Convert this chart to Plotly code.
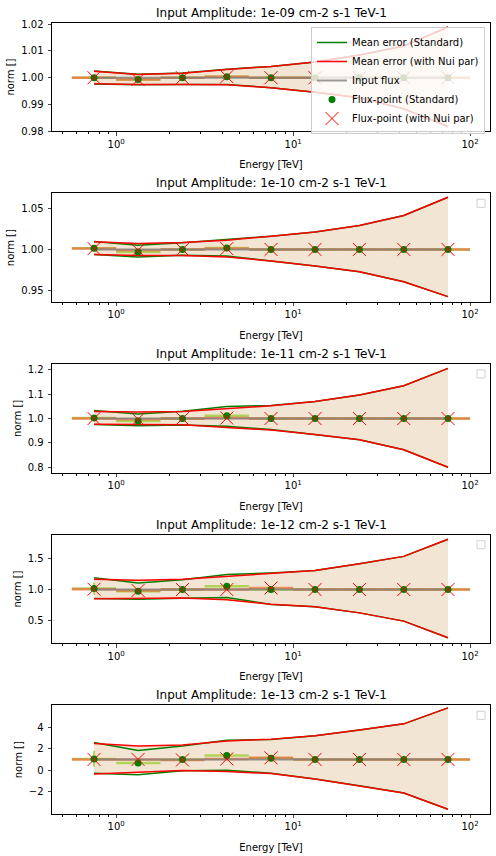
import plotly.graph_objs as go
from plotly.subplots import make_subplots

# energy binning (TeV)
e_edges = [0.562, 1.0, 1.78, 3.16, 5.62, 10.0, 17.8, 31.6, 56.2, 100.0]
e_center = [0.75, 1.33, 2.37, 4.22, 7.5, 13.3, 23.7, 42.2, 75.0]
input_flux = [1.0, 1.0, 1.0, 1.0, 1.0, 1.0, 1.0, 1.0, 1.0]

amplitudes = ['1e-09', '1e-10', '1e-11', '1e-12', '1e-13']

# flux points, one list per amplitude
std_points = [
    [1.0, 0.9993, 1.0, 1.0004, 1.0, 1.0, 1.0, 1.0, 1.0],
    [1.0015, 0.997, 1.0, 1.0018, 1.0, 1.0, 1.0, 1.0, 1.0],
    [1.002, 0.99, 1.0, 1.011, 1.0, 1.0, 1.0, 1.0, 1.0],
    [1.016, 0.973, 1.0, 1.054, 1.0, 1.0, 1.0, 1.0, 1.0],
    [1.05, 0.67, 1.0, 1.37, 1.1, 1.0, 1.0, 1.0, 1.0],
]
std_yerr = [
    [0, 0, 0, 0, 0, 0, 0, 0, 0],
    [0, 0, 0, 0, 0, 0, 0, 0, 0],
    [0, 0, 0, 0, 0, 0, 0, 0, 0],
    [0.1, 0, 0, 0, 0, 0, 0, 0, 0],
    [0.75, 0, 0, 0, 0, 0, 0, 0, 0],
]
nui_points = [
    [1.0, 0.9993, 1.0, 1.0004, 1.0, 1.0, 1.0, 1.0, 1.0],
    [1.001, 0.999, 1.0, 1.001, 1.0, 1.0, 1.0, 1.0, 1.0],
    [1.0, 0.997, 1.0, 1.002, 1.0, 1.0, 1.0, 1.0, 1.0],
    [1.005, 0.985, 1.0, 1.0, 1.025, 1.0, 1.0, 1.0, 1.0],
    [1.0, 1.0, 0.95, 1.05, 1.15, 1.0, 1.0, 1.0, 1.0],
]

# mean error envelopes
std_upper = [
    [1.0025, 1.0013, 1.0018, 1.0032, 1.0042, 1.0059, 1.0085, 1.0118, 1.0189],
    [1.0095, 1.005, 1.008, 1.012, 1.016, 1.021, 1.029, 1.041, 1.063],
    [1.033, 1.019, 1.03, 1.049, 1.054, 1.070, 1.097, 1.135, 1.206],
    [1.19, 1.108, 1.16, 1.243, 1.27, 1.31, 1.42, 1.54, 1.82],
    [2.57, 1.84, 2.25, 2.79, 2.86, 3.2, 3.75, 4.32, 5.81],
]
std_lower = [
    [0.9977, 0.9974, 0.9975, 0.9975, 0.9963, 0.9946, 0.9925, 0.9884, 0.9818],
    [0.994, 0.991, 0.993, 0.992, 0.986, 0.980, 0.973, 0.961, 0.943],
    [0.975, 0.970, 0.973, 0.968, 0.955, 0.934, 0.913, 0.872, 0.80],
    [0.854, 0.843, 0.86, 0.87, 0.757, 0.72, 0.62, 0.486, 0.216],
    [-0.29, -0.44, -0.06, 0.0, -0.29, -0.83, -1.46, -2.13, -3.65],
]
nui_upper = [
    [1.0024, 1.0012, 1.0017, 1.0031, 1.0042, 1.0059, 1.0085, 1.0118, 1.0189],
    [1.0092, 1.0072, 1.0084, 1.0112, 1.016, 1.021, 1.029, 1.041, 1.063],
    [1.029, 1.027, 1.029, 1.042, 1.052, 1.070, 1.097, 1.135, 1.206],
    [1.168, 1.151, 1.168, 1.216, 1.27, 1.31, 1.42, 1.54, 1.82],
    [2.48, 2.25, 2.35, 2.73, 2.89, 3.2, 3.75, 4.32, 5.81],
]
nui_lower = [
    [0.9978, 0.9975, 0.9975, 0.9974, 0.9963, 0.9946, 0.9925, 0.9884, 0.9818],
    [0.994, 0.9928, 0.9928, 0.991, 0.986, 0.980, 0.973, 0.961, 0.943],
    [0.977, 0.977, 0.974, 0.963, 0.953, 0.934, 0.913, 0.872, 0.80],
    [0.852, 0.855, 0.862, 0.835, 0.76, 0.72, 0.62, 0.486, 0.216],
    [-0.35, -0.19, -0.03, -0.13, -0.32, -0.83, -1.46, -2.13, -3.65],
]

y_ranges = [[0.98, 1.0205], [0.9365, 1.0678], [0.7775, 1.224], [0.123, 1.893], [-4.09, 6.05]]
y_ticks = [[0.98, 0.99, 1.0, 1.01, 1.02], [0.95, 1.0, 1.05], [0.8, 0.9, 1.0, 1.1, 1.2],
           [0.5, 1.0, 1.5], [-2, 0, 2, 4]]
y_formats = ['.2f', '.2f', '.1f', '.1f', 'd']

W, H = 496, 856
top_px = [22.7, 193.3, 364.0, 534.7, 705.3]
panel_h = 108.7

FILL = 'rgb(243,229,211)'
STD_BAR = 'rgba(154,205,50,0.75)'
NUI_BAR = 'rgba(236,110,60,0.75)'

x_plus = [e_edges[k + 1] - e_center[k] for k in range(len(e_center))]
x_minus = [e_center[k] - e_edges[k] for k in range(len(e_center))]
minor_vals = [m * d for d in (0.1, 1, 10) for m in range(2, 10)]

fig = make_subplots(rows=5, cols=1)

for i in range(5):
    r = i + 1
    leg = (i == 0)

    # uncertainty band
    fig.add_trace(go.Scatter(x=e_center + e_center[::-1], y=nui_upper[i] + nui_lower[i][::-1],
                             mode='lines', line=dict(width=0), fill='toself', fillcolor=FILL,
                             showlegend=False, hoverinfo='skip'), r, 1)

    # energy bin bars
    fig.add_trace(go.Scatter(x=e_center, y=std_points[i], mode='markers',
                             marker=dict(size=6, opacity=0),
                             error_x=dict(type='data', symmetric=False, array=x_plus, arrayminus=x_minus,
                                          color=STD_BAR, thickness=2.5, width=0),
                             error_y=dict(type='data', array=std_yerr[i], color=STD_BAR, thickness=2, width=0),
                             showlegend=False, hoverinfo='skip'), r, 1)
    fig.add_trace(go.Scatter(x=e_center, y=nui_points[i], mode='markers',
                             marker=dict(size=6, opacity=0),
                             error_x=dict(type='data', symmetric=False, array=x_plus, arrayminus=x_minus,
                                          color=NUI_BAR, thickness=2.5, width=0),
                             showlegend=False, hoverinfo='skip'), r, 1)

    # mean error envelopes
    fig.add_trace(go.Scatter(x=e_center + [None] + e_center, y=std_upper[i] + [None] + std_lower[i],
                             mode='lines', line=dict(color='green', width=1.5),
                             name='Mean error (Standard)', showlegend=leg, legendrank=1), r, 1)
    fig.add_trace(go.Scatter(x=e_center + [None] + e_center, y=nui_upper[i] + [None] + nui_lower[i],
                             mode='lines', line=dict(color='red', width=1.5),
                             name='Mean error (with Nui par)', showlegend=leg, legendrank=2), r, 1)

    fig.add_trace(go.Scatter(x=e_center, y=input_flux, mode='lines',
                             line=dict(color='rgba(128,128,128,0.8)', width=2),
                             name='Input flux', showlegend=leg, legendrank=3), r, 1)

    fig.add_trace(go.Scatter(x=e_center, y=std_points[i], mode='markers',
                             marker=dict(symbol='circle', size=7, color='green'),
                             name='Flux-point (Standard)', showlegend=leg, legendrank=4), r, 1)
    fig.add_trace(go.Scatter(x=e_center, y=nui_points[i], mode='markers',
                             marker=dict(symbol='x-thin', size=13, line=dict(color='red', width=1)),
                             name='Flux-point (with Nui par)', showlegend=leg, legendrank=5), r, 1)

    y0 = 1 - (top_px[i] + panel_h) / H
    y1 = 1 - top_px[i] / H
    fig.update_yaxes(row=r, col=1, domain=[y0, y1], range=y_ranges[i], tickvals=y_ticks[i],
                     tickformat=y_formats[i], ticks='outside', ticklen=3.5, tickwidth=0.8,
                     ticklabelstandoff=2,
                     showline=True, linecolor='black', linewidth=0.8, mirror=True,
                     showgrid=False, zeroline=False, automargin=False,
                     title=dict(text='norm []', font=dict(size=10), standoff=4))
    fig.update_xaxes(row=r, col=1, type='log', range=[-0.3625, 2.1125],
                     tickvals=[1, 10, 100], ticktext=['10<sup>0</sup>', '10<sup>1</sup>', '10<sup>2</sup>'],
                     ticks='outside', ticklen=3.5, tickwidth=0.8,
                     minor=dict(tickvals=minor_vals, ticks='outside', ticklen=2, tickwidth=0.6,
                                tickcolor='black', showgrid=False),
                     showline=True, linecolor='black', linewidth=0.8, mirror=True,
                     showgrid=False, zeroline=False, automargin=False,
                     title=dict(text='Energy [TeV]', font=dict(size=10), standoff=12))

    xd = 'x domain' if r == 1 else f'x{r} domain'
    yd = 'y domain' if r == 1 else f'y{r} domain'
    fig.add_annotation(xref=xd, yref=yd, x=0.5, y=1, yanchor='bottom', yshift=1,
                       text=f'Input Amplitude: {amplitudes[i]} cm-2 s-1 TeV-1',
                       showarrow=False, font=dict(size=12))
    if i > 0:
        # empty legend frame
        fig.add_shape(type='rect', xref=xd, yref=yd,
                      x0=1 - 13 / 438, x1=1 - 5 / 438, y0=1 - 14 / panel_h, y1=1 - 6 / panel_h,
                      line=dict(color='#d0d0d0', width=1), fillcolor='white')

fig.update_layout(
    width=W, height=H,
    margin=dict(l=52, r=6, t=0, b=0, autoexpand=False),
    paper_bgcolor='white', plot_bgcolor='white',
    font=dict(family='DejaVu Sans', size=10, color='black'),
    legend=dict(x=(485 - 52) / 438, y=1 - 27 / H, xanchor='right', yanchor='top',
                bgcolor='rgba(255,255,255,0.8)', bordercolor='#cccccc', borderwidth=1,
                font=dict(size=10), traceorder='normal'),
)

# drop the default page margin so the figure sits at the window origin
fig.write_html('out.html', config={'displayModeBar': False},
               post_script="document.body.style.margin='0';")
